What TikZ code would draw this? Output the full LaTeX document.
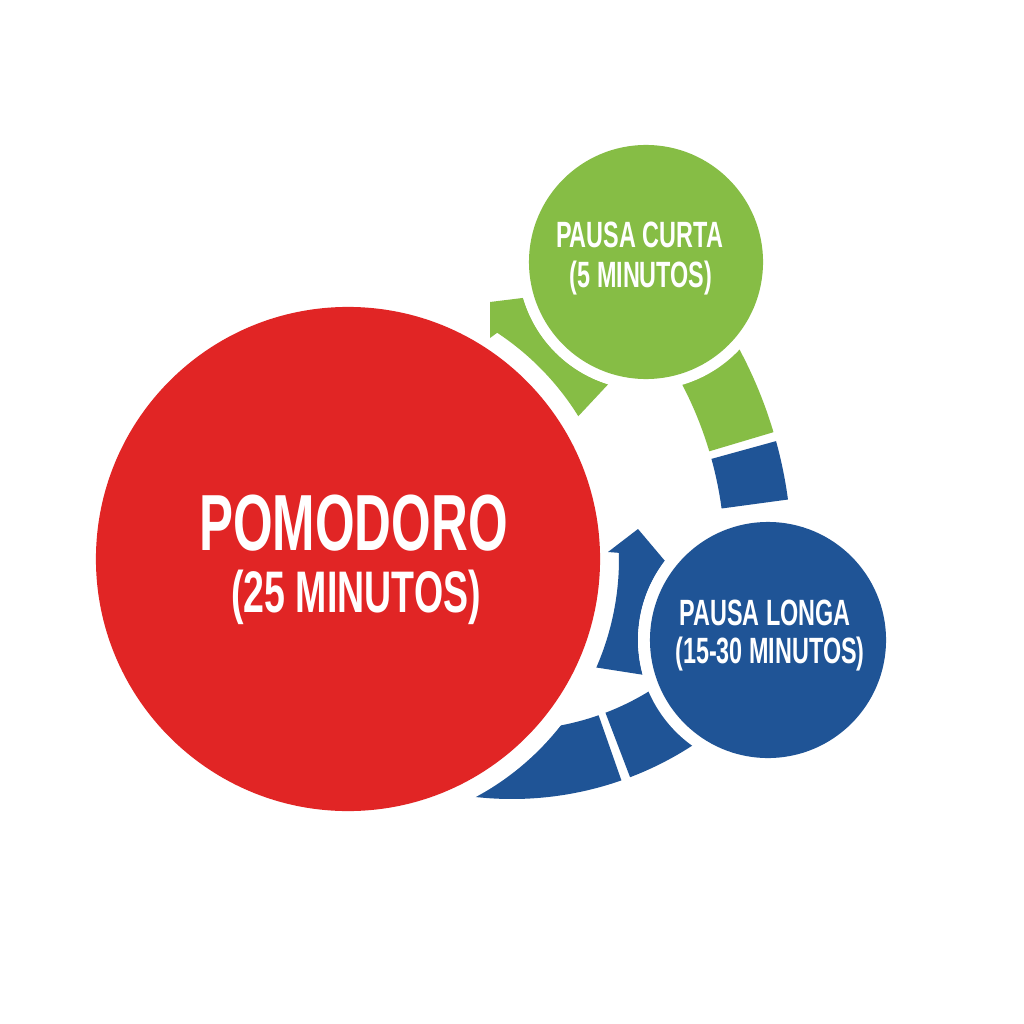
\documentclass[tikz,border=0pt]{standalone}
\usepackage{fontspec}
\newfontfamily\condfont[FakeStretch=0.64]{Liberation Sans}
\usetikzlibrary{calc}
\definecolor{pomred}{HTML}{E12525}
\definecolor{pgreen}{HTML}{86BD45}
\definecolor{pblue}{HTML}{1F5496}
\begin{document}
\begin{tikzpicture}[x=0.025cm, y=-0.025cm,
  lbl/.style={text=white, inner sep=0pt, anchor=base},
  bigtxt/.style={lbl, font=\condfont\bfseries\fontsize{56.6}{60}\selectfont},
  midtxt/.style={lbl, font=\condfont\bfseries\fontsize{41.7}{45}\selectfont},
  smalltxt/.style={lbl, font=\condfont\bfseries\fontsize{26}{30}\selectfont},
  gapdisc/.style={fill=white},
  bubble/.style={circle, inner sep=0pt}
]
\useasboundingbox (0,0) rectangle (1024,1024);
\fill[white] (0,0) rectangle (1024,1024);
\coordinate (R) at (348,559);
\coordinate (G) at (646,262);
\coordinate (B) at (768,640);
\coordinate (C) at (512,468);

% upper band (green part and blue part)
\fill[pgreen] ($(R)+(-32:444)$) arc[start angle=-32,end angle=-16.6,radius=444]
  -- ($(R)+(-16.6:377)$) arc[start angle=-16.6,end angle=-32,radius=377] -- cycle;
\fill[pblue] ($(R)+(-15.4:444)$) arc[start angle=-15.4,end angle=-7.7,radius=444]
  -- ($(R)+(-7.7:377)$) arc[start angle=-7.7,end angle=-15.4,radius=377] -- cycle;

% bottom band (two pieces)
\fill[pblue] ($(C)+(70.7:331)$) arc[start angle=70.7,end angle=105,radius=331]
  -- ($(C)+(105:262)$) arc[start angle=105,end angle=70.7,radius=262] -- cycle;
\fill[pblue] ($(C)+(50:331)$) arc[start angle=50,end angle=69.1,radius=331]
  -- ($(C)+(69.1:262)$) arc[start angle=69.1,end angle=50,radius=262] -- cycle;

% gap around the red circle
\fill[gapdisc] (R) circle (270);

% green arrow
\fill[pgreen] (490,302) -- ($(G)+(163.7:128)$) arc[start angle=163.7,end angle=107.2,radius=128]
  -- ($(R)+(-31.8:271)$) arc[start angle=-31.8,end angle=-56.6,radius=271]
  -- (490,338) -- cycle;

% blue arrow
\fill[pblue] (638,529) -- ($(B)+(217.5:130)$) arc[start angle=217.5,end angle=164.5,radius=130]
  -- ($(R)+(23.6:271)$) arc[start angle=23.6,end angle=-1.3,radius=271]
  -- (608,552) -- cycle;

% gaps around the small circles
\fill[gapdisc] (G) circle (128);
\fill[gapdisc] (B) circle (130);

% circles
\node[bubble, fill=pomred, minimum size=12.6cm] (pomodoro) at (R) {};
\node[bubble, fill=pgreen, minimum size=5.85cm] (curta) at (G) {};
\node[bubble, fill=pblue, minimum size=5.9cm] (longa) at (B) {};

% labels
\node[bigtxt] (t1) at (353.5,550) {POMODORO};
\node[midtxt] (t2) at (356,612) {(25 MINUTOS)};
\node[smalltxt] (t3) at (639.5,248) {PAUSA CURTA};
\node[smalltxt] (t4) at (641,287) {(5 MINUTOS)};
\node[smalltxt] (t5) at (765,625) {PAUSA LONGA};
\node[smalltxt] (t6) at (770,663) {(15-30 MINUTOS)};
\end{tikzpicture}
\end{document}
